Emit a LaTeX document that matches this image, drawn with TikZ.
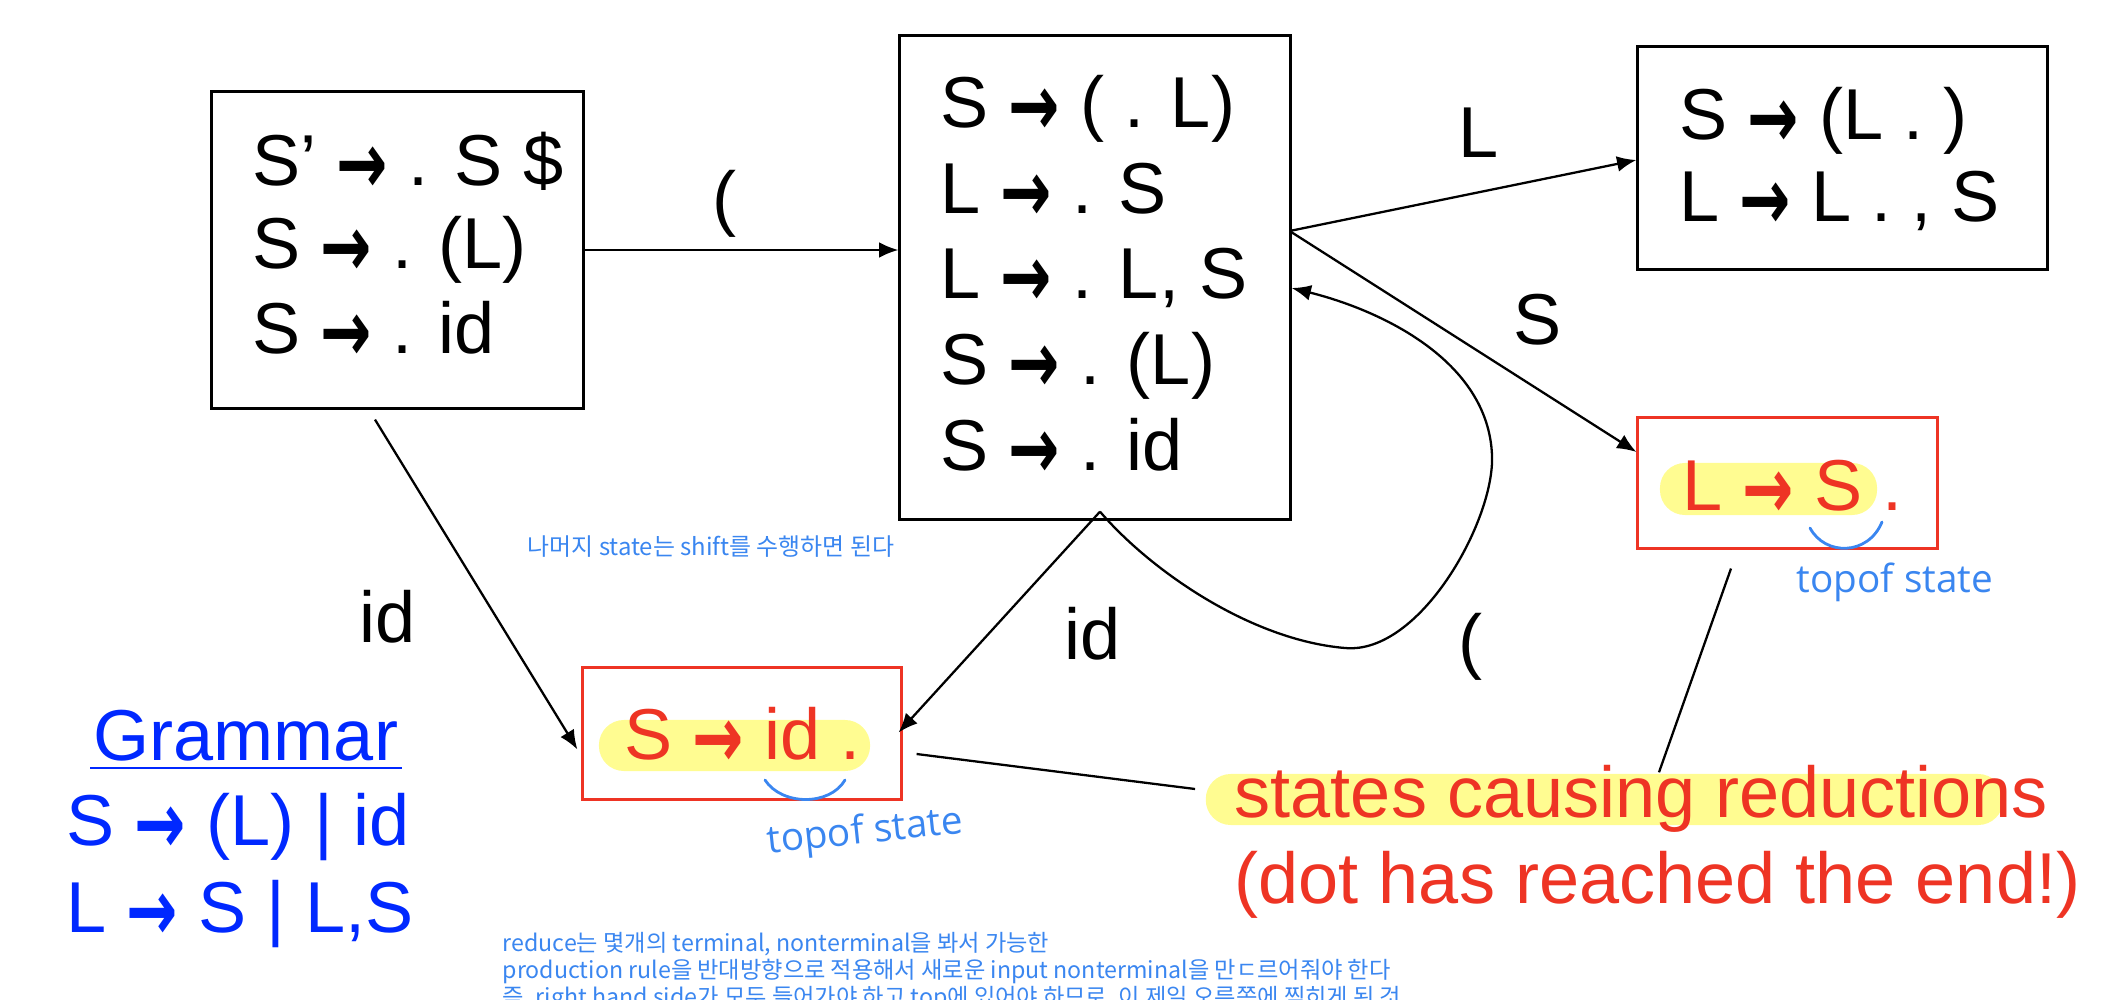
\documentclass[tikz,border=0pt]{standalone}
\usepackage{fontspec}
\setmainfont{Liberation Sans}
\newfontfamily\arrowfont{DejaVu Sans}
\newfontfamily\krfont{Noto Sans CJK KR}
\newfontfamily\handfont{Open Sans}
\usetikzlibrary{arrows.meta}
\definecolor{redc}{RGB}{238,52,36}
\definecolor{hlyellow}{RGB}{255,252,145}
\definecolor{gblue}{RGB}{0,40,255}
\definecolor{nblue}{RGB}{58,134,240}
\newcommand{\myarrow}{\raisebox{-0.12em}{\scalebox{0.85}[1.2]{\arrowfont\bfseries →}}}
\begin{document}
\begin{tikzpicture}[x=0.01cm,y=-0.01cm,
 statebox/.style={draw=black, line width=0.85pt, inner sep=0pt},
 redbox/.style={draw=redc, line width=0.85pt, inner sep=0pt},
 item/.style={font=\fontsize{20.5pt}{24pt}\selectfont, inner sep=0pt, anchor=base west},
 reditem/.style={item, text=redc},
 conn/.style={line width=0.65pt, -{Latex[length=5.5pt,width=4.5pt]}},
 plain/.style={line width=0.65pt},
 pill/.style={fill=hlyellow, inner sep=0pt, rounded corners=0.25cm},
 note/.style={font=\krfont\fontsize{6.6pt}{8pt}\selectfont, text=nblue, inner sep=0pt, anchor=base west},
 hand/.style={font=\handfont\fontsize{11pt}{12pt}\selectfont, text=nblue, inner sep=0pt},
 smile/.style={draw=nblue, line width=0.8pt, line cap=round},
 gram/.style={font=\fontsize{20.5pt}{24pt}\selectfont, text=gblue, inner sep=0pt, anchor=base west}
]
\useasboundingbox (0,0) rectangle (2108,1000);
\clip (0,0) rectangle (2108,1000);

% state boxes
\node[statebox, minimum width=3.71cm, minimum height=3.16cm] (b1) at (397.5,250) {};
\node[statebox, minimum width=3.90cm, minimum height=4.83cm] (b2) at (1095,277.5) {};
\node[statebox, minimum width=4.09cm, minimum height=2.22cm] (b3) at (1842.5,158) {};
\node[redbox, minimum width=2.99cm, minimum height=1.30cm] (r1) at (1787.5,483) {};
\node[redbox, minimum width=3.18cm, minimum height=1.31cm] (r2) at (742,733.5) {};

% highlights
\node[pill, minimum width=2.17cm, minimum height=0.52cm] (p1) at (1768.5,489) {};
\node[pill, minimum width=2.71cm, minimum height=0.51cm] (p2) at (734.5,745.5) {};
\node[pill, minimum width=7.97cm, minimum height=0.51cm] (hl) at (1604.5,799.5) {};

% box 1 items
\node[item] (b1a) at (252,185) {S’ \myarrow\ . S \$};
\node[item] (b1b) at (252,268) {S \myarrow\ . (L)};
\node[item] (b1c) at (252,353) {S \myarrow\ . id};

% box 2 items
\node[item] (b2a) at (940,127) {S \myarrow\ ( . L)};
\node[item] (b2b) at (940,213) {L \myarrow\ . S};
\node[item] (b2c) at (940,298) {L \myarrow\ . L, S};
\node[item] (b2d) at (940,384) {S \myarrow\ . (L)};
\node[item] (b2e) at (940,470) {S \myarrow\ . id};

% box 3 items
\node[item] (b3a) at (1679,139) {S \myarrow\ (L . )};
\node[item] (b3b) at (1679,221) {L \myarrow\ L . , S};

% reduce states
\node[reditem] (r1a) at (1682,510) {L \myarrow\ S .};
\node[reditem] (r2a) at (624,759) {S \myarrow\ id .};

% edge labels
\node[item] (lp1) at (712,222) {(};
\node[item] (lL) at (1458,157) {L};
\node[item] (lS) at (1513,344) {S};
\node[item] (lid1) at (359,642) {id};
\node[item] (lid2) at (1064,659) {id};
\node[item] (lp2) at (1458,665) {(};

% connectors
\draw[conn] (b1.east) -- (b1.east -| b2.west);
\coordinate (fork) at ([shift={(-2,-46.5)}]b2.east);
\draw[conn] (fork) -- ([shift={(0,2)}]b3.west);
\draw[conn] (fork) -- ([shift={(0,-31)}]r1.west);
\draw[conn] ([shift={(-22.5,10)}]b1.south) -- ([shift={(-4,16)}]r2.west);
\coordinate (b2peak) at ([shift={(5,-9)}]b2.south);
\draw[conn] (b2peak) -- ([shift={(-4,-1)}]r2.east);
\draw[conn] (b2peak) .. controls (1150,570) and (1250,640) .. (1345,648)
  .. controls (1420,655) and (1495,520) .. (1492,455)
  .. controls (1488,360) and (1380,310) .. ([shift={(0,10.5)}]b2.east);

% reduction caption
\node[item, text=redc, font=\fontsize{20.5pt}{24pt}\selectfont] (cap1) at (1234,817) {states causing reductions};
\node[item, text=redc, font=\fontsize{20.5pt}{24pt}\selectfont] (cap2) at (1234,903) {(dot has reached the end!)};
\draw[plain] ([shift={(14,20.5)}]r2.east) -- ([shift={(-10,-10.5)}]hl.west);
\draw[plain] ([shift={(-56.5,19)}]r1.south) -- ([shift={(54.5,-1)}]hl.north);

% handwritten notes
\draw[smile] (1810,528) .. controls (1825,556) and (1868,556) .. (1882,522);
\node[hand] (h1) at (1895,582) {topof state};
\draw[smile] (765,780) .. controls (782,806) and (830,806) .. (845,780);
\node[hand, rotate=6] (h2) at (865,833) {topof state};

% grammar
\node[gram] (g0) at (93,760) {Grammar};
\draw[gblue, line width=0.8pt] ([shift={(-3,8)}]g0.base west) -- ([shift={(3,8)}]g0.base east);
\node[gram] (g1) at (66,845) {S \myarrow\ (L) | id};
\node[gram] (g2) at (66,932) {L \myarrow\ S | L,S};

% korean notes
\node[note, font=\krfont\fontsize{6.8pt}{8pt}\selectfont] (n0) at (527,555) {나머지 state는 shift를 수행하면 된다};
\node[note] (n1) at (502,951) {reduce는 몇개의 terminal, nonterminal을 봐서 가능한};
\node[note] (n2) at (502,978) {production rule을 반대방향으로 적용해서 새로운 input nonterminal을 만ㄷ르어줘야 한다};
\node[note] (n3) at (502,1005) {즉, right hand side가 모두 들어가야 하고 top에 있어야 하므로, 이 제일 오른쪽에 찍히게 된 것};
\end{tikzpicture}
\end{document}
